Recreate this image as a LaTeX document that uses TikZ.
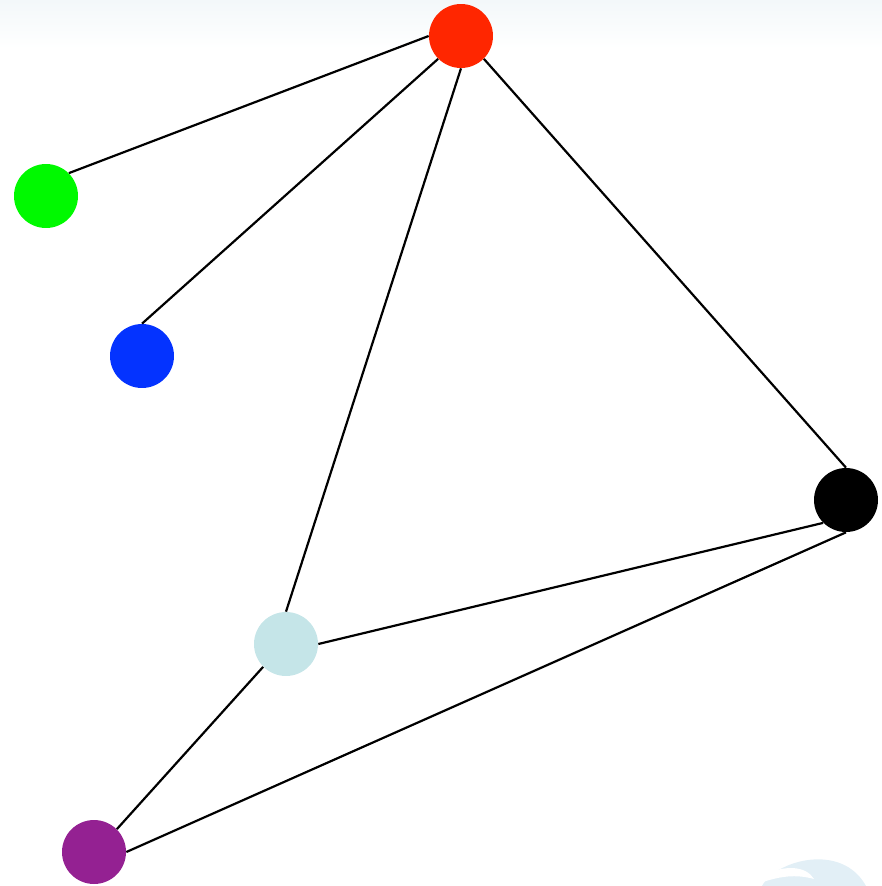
\documentclass[tikz,border=0pt]{standalone}
\usepackage{tikz}
\usetikzlibrary{positioning}
\definecolor{vred}{HTML}{FF2600}
\definecolor{vgreen}{HTML}{00F900}
\definecolor{vblue}{HTML}{0433FF}
\definecolor{vcyan}{HTML}{C5E5E8}
\definecolor{vpurple}{HTML}{942192}
\definecolor{haze}{HTML}{F3F8FA}
\definecolor{wmark}{HTML}{E2EFF6}

\begin{document}
\begin{tikzpicture}[
    x=0.02cm, y=-0.02cm,
    vertex/.style={circle, minimum size=1.28cm, inner sep=0pt, draw=none},
    edge/.style={line width=1.25pt, black}
]
    \useasboundingbox (0,0) rectangle (882,886);

    % faint band along the top
    \shade[top color=haze, bottom color=white] (0,0) rectangle (882,48);

    % watermark, bottom right
    \fill[wmark] (762,886) .. controls (776,860) and (842,842) .. (866,886) -- cycle;
    \fill[white] (760,876) .. controls (786,864) and (806,866) .. (814,879)
        .. controls (796,874) and (780,876) .. (760,883) -- cycle;

    % vertices
    \node[vertex, fill=vred] (red) at (461,36) {};
    \node[vertex, fill=vgreen] (green) at (46,196) {};
    \node[vertex, fill=vblue] (blue) at (142,356) {};
    \node[vertex, fill=black] (black) at (846,500) {};
    \node[vertex, fill=vcyan] (cyan) at (286,644) {};
    \node[vertex, fill=vpurple] (purple) at (94,852) {};

    % edges
    \draw[edge] (red.west) -- (green.45);
    \draw[edge] (red.225) -- (blue.north);
    \draw[edge] (red.south) -- (cyan.north);
    \draw[edge] (red.315) -- (black.north);
    \draw[edge] (black.225) -- (cyan.east);
    \draw[edge] (black.south) -- (purple.east);
    \draw[edge] (cyan.225) -- (purple.45);
\end{tikzpicture}
\end{document}
